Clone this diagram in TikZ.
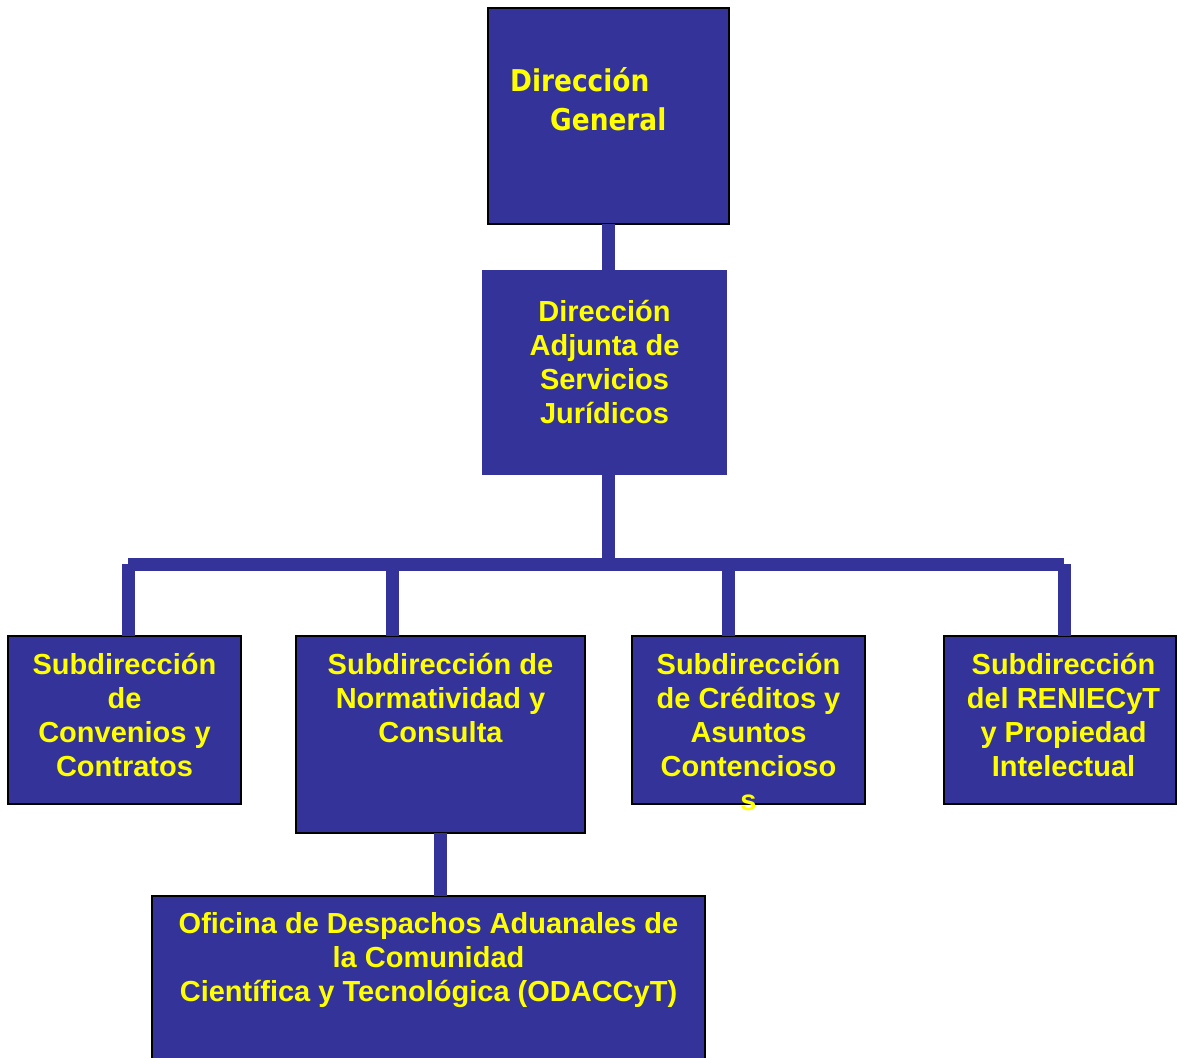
\documentclass[tikz,border=0pt]{standalone}
\usepackage{fontspec}
\setmainfont{Liberation Sans}
\newfontfamily\dgfont{DejaVu Sans}[FakeStretch=0.88]
\definecolor{orgblue}{HTML}{333399}
\definecolor{orgyellow}{HTML}{FFFF00}
\tikzset{
  box/.style={fill=orgblue, draw=black, line width=1.6pt, inner sep=0pt, outer sep=0pt, anchor=north west},
  boxnb/.style={fill=orgblue, draw=none, inner sep=0pt, outer sep=0pt, anchor=north west},
  conn/.style={draw=orgblue, line width=13pt, line cap=butt},
  txt/.style={text=orgyellow, font=\fontsize{29}{34}\selectfont\bfseries, align=center, inner sep=0pt, anchor=base},
  dgtxt/.style={text=orgyellow, font=\fontsize{30}{39}\selectfont\dgfont\bfseries, align=left, inner sep=0pt, anchor=base west}
}
\begin{document}
\begin{tikzpicture}[x=1pt,y=-1pt]
\useasboundingbox (0,0) rectangle (1177,1057);
% boxes
\node[box, minimum width=241pt, minimum height=216pt] (dg) at (488,8) {};
\node[boxnb, minimum width=245pt, minimum height=205pt] (daj) at (482,270) {};
\node[box, minimum width=233pt, minimum height=168pt] (sub1) at (8,636) {};
\node[box, minimum width=289pt, minimum height=197pt] (sub2) at (296,636) {};
\node[box, minimum width=233pt, minimum height=168pt] (sub3) at (632,636) {};
\node[box, minimum width=232pt, minimum height=168pt] (sub4) at (944,636) {};
\node[box, minimum width=553pt, minimum height=175pt] (odac) at (152,896) {};
% bus coordinates
\coordinate (busL) at (128,564);
\coordinate (busM) at (608,564);
\coordinate (bus2) at (392,564);
\coordinate (bus3) at (728,564);
\coordinate (busR) at (1064,564);
% connectors
\draw[conn] (dg.south -| busM) -- (busM |- daj.north);
\draw[conn] (busM |- daj.south) -- (busM);
\draw[conn] (busL) -- (busR);
\draw[conn] (busL) -- (busL |- sub1.north);
\draw[conn] (bus2) -- (bus2 |- sub2.north);
\draw[conn] (bus3) -- (bus3 |- sub3.north);
\draw[conn] (busR) -- (busR |- sub4.north);
\draw[conn] (sub2.south) -- (sub2.south |- odac.north);
% texts (anchor base = baseline of the last line)
\node[dgtxt] (tdg) at ([xshift=22pt,yshift=-122pt]dg.north west) {Dirección\\\hspace*{40pt}General};
\node[txt] (tdaj) at ([yshift=-153pt]daj.north) {Dirección\\Adjunta de\\Servicios\\Jurídicos};
\node[txt] (t1) at ([yshift=-140pt]sub1.north) {Subdirección\\de\\Convenios y\\Contratos};
\node[txt] (t2) at ([yshift=-106pt]sub2.north) {Subdirección de\\Normatividad y\\Consulta};
\node[txt] (t3) at ([yshift=-174pt]sub3.north) {Subdirección\\de Créditos y\\Asuntos\\Contencioso\\s};
\node[txt] (t4) at ([xshift=3.5pt,yshift=-140pt]sub4.north) {Subdirección\\del RENIECyT\\y Propiedad\\Intelectual};
\node[txt] (t5) at ([yshift=-105pt]odac.north) {Oficina de Despachos Aduanales de\\la Comunidad\\Científica y Tecnológica (ODACCyT)};
\end{tikzpicture}
\end{document}
